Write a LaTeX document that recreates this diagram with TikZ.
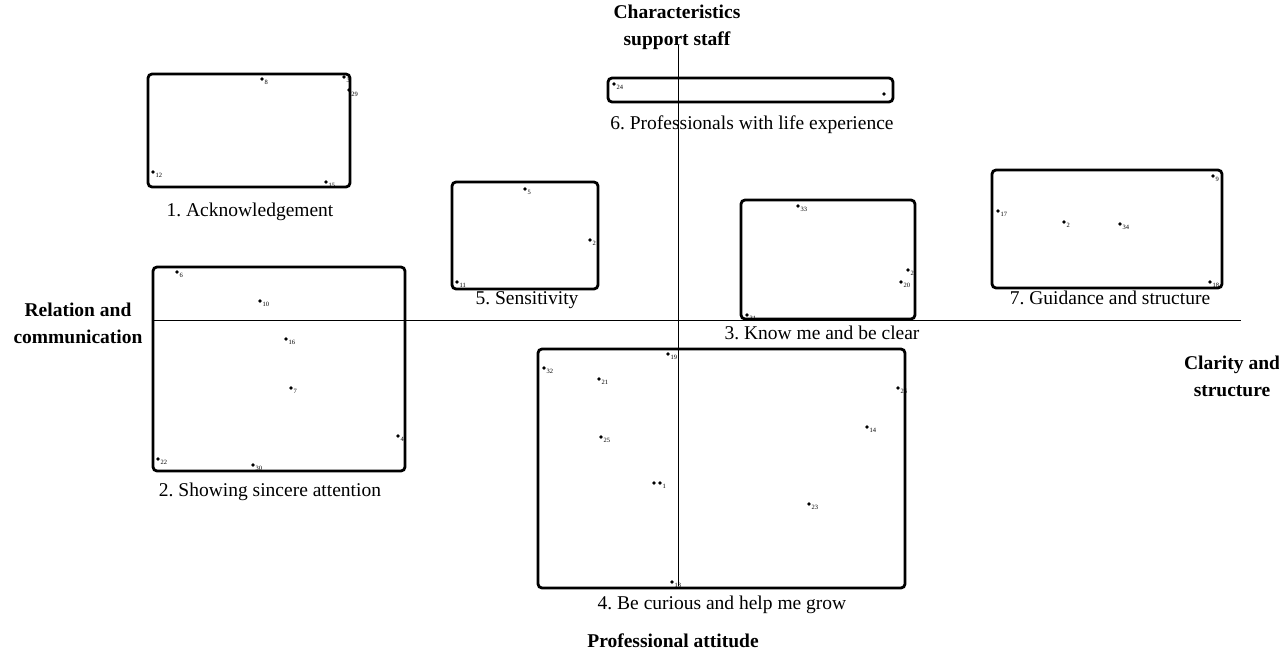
\documentclass[tikz,border=0pt]{standalone}
\usepackage{fontspec}
\setmainfont{Liberation Serif}
\frenchspacing
\begin{document}
\begin{tikzpicture}[x=1pt,y=-1pt,
  grp/.style={draw, line width=2.8pt, rounded corners=4pt, inner sep=0pt},
  axisline/.style={line width=0.9pt},
  pt/.style={circle, fill, inner sep=0pt, minimum size=3.6pt},
  num/.style={font=\fontsize{6.5}{7}\selectfont, inner sep=0.5pt},
  lab/.style={font=\fontsize{19.5}{22}\selectfont, inner sep=0pt},
  axlab/.style={font=\fontsize{19.5}{27}\selectfont\bfseries, align=center, inner sep=0pt}]
\useasboundingbox (0,0) rectangle (1279,653);
% axes
\coordinate (vtop) at (678,45);
\coordinate (vbot) at (678,586);
\coordinate (hl) at (153,320);
\coordinate (hr) at (1241,320);
\draw[axisline] (vtop) -- (vbot);
\draw[axisline] (hl) -- (hr);
% axis labels
\node[axlab] (axT) at (677,27) {Characteristics\\support staff};
\node[axlab] (axL) at (78,323) {Relation and\\communication};
\node[axlab] (axR) at (1232,376) {Clarity and\\structure};
\node[axlab] (axB) at (673,641) {Professional attitude};
% group boxes
\node[grp, minimum width=202pt, minimum height=113pt] (b1) at (249,130.5) {};
\node[grp, minimum width=252pt, minimum height=204pt] (b2) at (279,369) {};
\node[grp, minimum width=174pt, minimum height=119pt] (b3) at (828,259.5) {};
\node[grp, minimum width=367pt, minimum height=239pt] (b4) at (721.5,468.5) {};
\node[grp, minimum width=146pt, minimum height=107pt] (b5) at (525,235.5) {};
\node[grp, minimum width=285pt, minimum height=24pt] (b6) at (750.5,90) {};
\node[grp, minimum width=230pt, minimum height=118pt] (b7) at (1107,229) {};
% group labels
\node[lab] (l1) at (250,212) {1. Acknowledgement};
\node[lab] (l2) at (270,492) {2. Showing sincere attention};
\node[lab] (l3) at (822,333) {3. Know me and be clear};
\node[lab] (l4) at (722,605) {4. Be curious and help me grow};
\node[lab] (l5) at (527,300) {5. Sensitivity};
\node[lab] (l6) at (752,125) {6. Professionals with life experience};
\node[lab] (l7) at (1110,298) {7. Guidance and structure};
% statements: group 1
\node[pt, label={[num]-20:8}] (s8) at (262,79) {};
\node[pt, label={[num]-10:3}] (s3) at (344,77) {};
\node[pt, label={[num]-30:29}] (s29) at (349,90) {};
\node[pt, label={[num]-20:12}] (s12) at (153,172) {};
\node[pt, label={[num]-20:15}] (s15) at (326,182) {};
% group 6
\node[pt, label={[num]-20:24}] (s24) at (614,84) {};
\node[pt] (s6b) at (884,94) {};
% group 5
\node[pt, label={[num]-20:5}] (s5) at (525,189) {};
\node[pt, label={[num]-20:2}] (s27) at (590,240) {};
\node[pt, label={[num]-20:11}] (s11) at (457,282) {};
% group 3
\node[pt, label={[num]-20:33}] (s33) at (798,206) {};
\node[pt, label={[num]-20:2}] (s28) at (908,270) {};
\node[pt, label={[num]-20:20}] (s20) at (901,282) {};
\node[pt, label={[num]-20:31}] (s31) at (747,315) {};
% group 7
\node[pt, label={[num]-10:9}] (s9) at (1213,176) {};
\node[pt, label={[num]-20:17}] (s17) at (998,211) {};
\node[pt, label={[num]-20:2}] (s2) at (1064,222) {};
\node[pt, label={[num]-20:34}] (s34) at (1120,224) {};
\node[pt, label={[num]-10:18}] (s18) at (1210,282) {};
% group 2
\node[pt, label={[num]-20:6}] (s6) at (177,272) {};
\node[pt, label={[num]-20:10}] (s10) at (260,301) {};
\node[pt, label={[num]-20:16}] (s16) at (286,339) {};
\node[pt, label={[num]-20:7}] (s7) at (291,388) {};
\node[pt, label={[num]-10:4}] (s4) at (398,436) {};
\node[pt, label={[num]-20:22}] (s22) at (158,459) {};
\node[pt, label={[num]-20:30}] (s30) at (253,465) {};
% group 4
\node[pt, label={[num]-20:19}] (s19) at (668,354) {};
\node[pt, label={[num]-20:32}] (s32) at (544,368) {};
\node[pt, label={[num]-20:21}] (s21) at (599,379) {};
\node[pt, label={[num]-20:25}] (s25) at (601,437) {};
\node[pt] (s1b) at (654,483) {};
\node[pt, label={[num]-20:1}] (s1) at (660,483) {};
\node[pt, label={[num]-20:13}] (s13) at (672,582) {};
\node[pt, label={[num]-10:26}] (s26) at (898,388) {};
\node[pt, label={[num]-20:14}] (s14) at (867,427) {};
\node[pt, label={[num]-20:23}] (s23) at (809,504) {};
\end{tikzpicture}
\end{document}
